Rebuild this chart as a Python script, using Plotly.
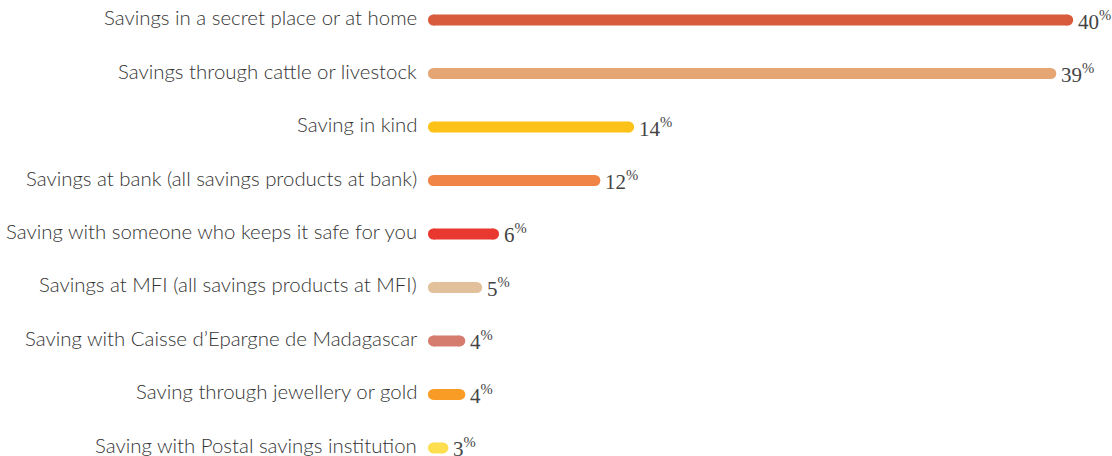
import plotly.graph_objects as go

# savings methods, top to bottom
categories = [
    "Savings in a secret place or at home",
    "Savings through cattle or livestock",
    "Saving in kind",
    "Savings at bank (all savings products at bank)",
    "Saving with someone who keeps it safe for you",
    "Savings at MFI (all savings products at MFI)",
    "Saving with Caisse d\u2019Epargne de Madagascar",
    "Saving through jewellery or gold",
    "Saving with Postal savings institution",
]
values = [40, 39, 14, 12, 6, 5, 4, 4, 3]
colors = ["#D95B3E", "#E5A673", "#FDC217", "#EF8446", "#E8382F",
          "#E2C09B", "#D67C6E", "#F99C25", "#FDDE4E"]

base = 2.44  # axis starts above zero, bars start at the axis edge
bar_w = 11

fig = go.Figure()
for i, (cat, v, c) in enumerate(zip(categories, values, colors)):
    # thick line with round ends made from markers
    fig.add_trace(go.Scatter(
        x=[base, v], y=[i, i], mode="lines+markers",
        line=dict(color=c, width=bar_w),
        marker=dict(color=c, size=bar_w, line=dict(width=0)),
        cliponaxis=False, hoverinfo="skip", showlegend=False,
    ))
    fig.add_annotation(
        x=base, y=i, xref="x", yref="y", text=cat, showarrow=False,
        xanchor="right", xshift=-14, yshift=3,
        font=dict(family="Lato", size=20.4, color="#333333", weight=300),
    )
    fig.add_annotation(
        x=v, y=i, xref="x", yref="y",
        text=f"{v}<sup style='font-size:10px'>%</sup>", showarrow=False,
        xanchor="left", xshift=8, yshift=0,
        font=dict(family="Liberation Serif", size=21, color="#444444"),
    )

fig.update_layout(
    width=1112, height=456,
    margin=dict(l=426, r=19, t=0, b=0),
    plot_bgcolor="white", paper_bgcolor="white",
    xaxis=dict(range=[2.0, 41.5], visible=False, fixedrange=True),
    yaxis=dict(range=[8.15, -0.374], visible=False, fixedrange=True),
    hovermode=False, dragmode=False,
)

fig.write_html("out.html", config={"displayModeBar": False},
               post_script="document.body.style.margin='0';")
